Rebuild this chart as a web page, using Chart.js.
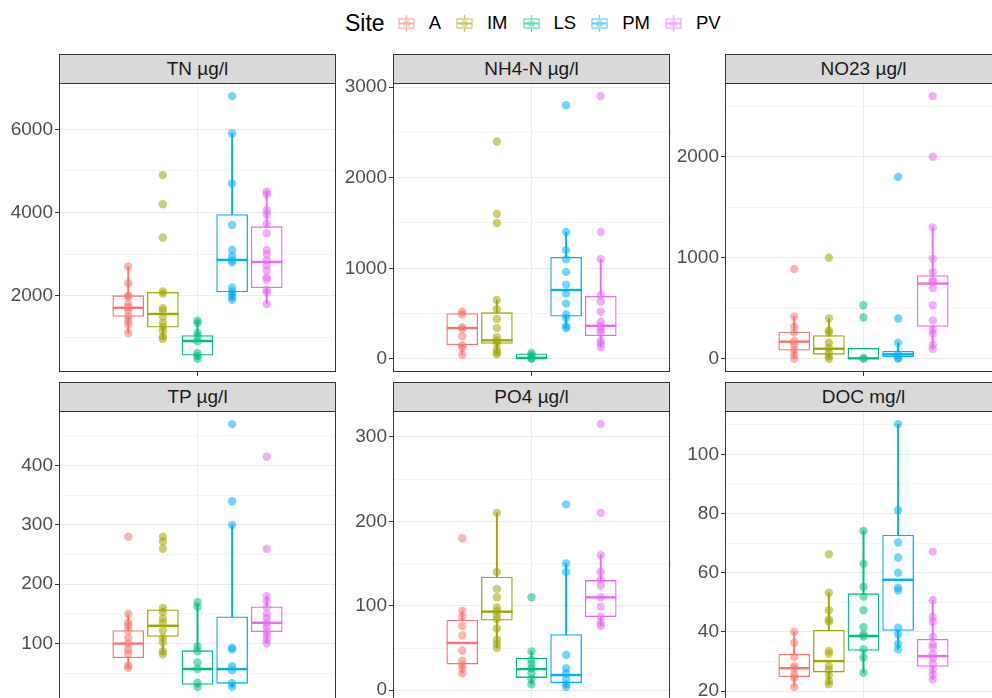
<!DOCTYPE html>
<html>
<head>
<meta charset="utf-8">
<script src="https://cdn.jsdelivr.net/npm/chart.js@4/dist/chart.umd.min.js"></script>
<style>
  html, body { margin: 0; padding: 0; background: #fff; }
  body { position: relative; width: 992px; height: 698px; overflow: hidden;
         font-family: 'Liberation Sans', Arial, sans-serif; }
  canvas { position: absolute; }
  .strip { position: absolute; box-sizing: border-box; background: #D9D9D9;
           border: 1px solid #333; color: #1A1A1A; font-size: 19px;
           text-align: center; line-height: 28px; white-space: nowrap; overflow: hidden; }
  #legend { position: absolute; left: 345px; top: 8px; height: 30px;
            display: flex; align-items: center; color: #000; }
  #legend .title { font-size: 23px; margin-right: 13px; }
  #legend .key { width: 17px; height: 17px; margin-right: 14px; }
  #legend .lab { font-size: 18.5px; margin-right: 15px; }
</style>
</head>
<body>
<div id="legend"><span class="title">Site</span></div>
<script>
// Sites and ggplot hue colours
const sites = ['A', 'IM', 'LS', 'PM', 'PV'];
const siteColors = ['#F8766D', '#A3A500', '#00BF7D', '#00B0F6', '#E76BF3'];

// Per panel: points per site, box stats per site [lower whisker, q1, median, q3, upper whisker], major ticks
const tnPts = [
  [2700, 2300, 2000, 1980, 1800, 1720, 1650, 1500, 1400, 1300, 1100],
  [4900, 4200, 3400, 2100, 2050, 1700, 1640, 1500, 1350, 1250, 1150, 1020, 960],
  [1400, 1340, 1100, 1020, 900, 620, 550, 480],
  [6800, 5900, 4700, 3700, 3100, 2950, 2850, 2800, 2200, 2100, 2040, 1970, 1900],
  [4500, 4440, 4050, 3950, 3730, 3500, 3100, 3000, 2850, 2730, 2600, 2440, 2390, 2130, 2080, 1800],
];
const tnBox = [[1100, 1500, 1710, 2000, 2700], [960, 1240, 1560, 2080, 2100], [480, 570, 910, 1040, 1400],
               [1900, 2090, 2860, 3950, 5900], [1800, 2190, 2810, 3660, 4500]];
const tnTicks = [2000, 4000, 6000];

const nh4Pts = [
  [520, 490, 350, 330, 250, 150, 120, 45],
  [2400, 1600, 1500, 650, 550, 440, 340, 240, 200, 170, 100, 70, 50],
  [65, 40, 10, 0],
  [2800, 1400, 1200, 1100, 960, 820, 720, 610, 490, 450, 360, 340],
  [2900, 1400, 1100, 700, 630, 520, 410, 360, 320, 290, 200, 170, 130],
];
const nh4Box = [[45, 155, 340, 500, 520], [50, 170, 205, 510, 650], [0, 0, 10, 55, 65],
                [340, 470, 760, 1120, 1400], [130, 255, 365, 690, 1100]];
const nh4Ticks = [0, 1000, 2000, 3000];

const no23Pts = [
  [890, 420, 320, 260, 175, 140, 90, 40, 0],
  [1000, 400, 280, 260, 160, 110, 60, 25, 0],
  [530, 410, 10, 0],
  [1800, 400, 160, 45, 10, 0],
  [2600, 2000, 1300, 990, 860, 780, 760, 700, 530, 380, 290, 250, 140, 100],
];
const no23Box = [[0, 85, 170, 265, 420], [0, 45, 100, 230, 400], [0, 0, 5, 105, 105],
                 [0, 20, 45, 75, 160], [100, 320, 745, 825, 1300]];
const no23Ticks = [0, 1000, 2000];

const tpPts = [
  [280, 150, 135, 130, 122, 110, 100, 90, 83, 63, 59],
  [280, 272, 260, 160, 153, 142, 135, 122, 110, 102, 87, 82],
  [170, 162, 95, 87, 68, 57, 34, 27],
  [470, 340, 300, 93, 90, 62, 55, 33, 27],
  [415, 260, 180, 172, 161, 150, 143, 135, 128, 120, 114, 107, 100],
];
const tpBox = [[59, 76, 100, 122, 150], [82, 112, 130, 157, 160], [27, 31, 57, 88, 165],
               [27, 33, 57, 145, 300], [100, 120, 135, 162, 180]];
const tpTicks = [100, 200, 300, 400];

const po4Pts = [
  [180, 94, 87, 76, 65, 47, 35, 30, 26, 20],
  [210, 140, 120, 110, 98, 94, 89, 84, 73, 60, 55, 50],
  [110, 46, 36, 31, 26, 20, 13, 7],
  [220, 150, 140, 42, 26, 20, 13, 7, 4],
  [315, 210, 160, 140, 131, 124, 110, 99, 87, 80, 76],
];
const po4Box = [[20, 31, 56, 83, 94], [50, 83, 93, 134, 210], [7, 15, 25, 38, 46],
                [4, 9, 18, 66, 150], [76, 87, 110, 130, 160]];
const po4Ticks = [0, 100, 200, 300];

const docPts = [
  [40, 36.3, 31.5, 28.5, 27.6, 25.6, 24.5, 21.4],
  [66.2, 53.2, 47.3, 44.2, 43.4, 33.5, 32.6, 28.5, 27.3, 25.4, 23.4, 22.3],
  [74.1, 63, 55.2, 51.9, 47.3, 41.6, 39.2, 38.4, 34.1, 31.3, 26.2],
  [110.2, 81.1, 70.2, 65.1, 60, 54.9, 54, 41.4, 39.2, 36, 34.1],
  [67.1, 50.7, 45, 43.4, 38.3, 35.8, 34.7, 32.4, 31, 29.2, 27.3, 25.6, 23.9],
];
const docBox = [[21.4, 24.8, 27.7, 32.4, 40], [22.3, 26.4, 30.1, 40.5, 53.2], [26.2, 33.7, 38.6, 52.9, 74.1],
                [34.1, 40.5, 57.6, 72.7, 110.2], [23.9, 28.3, 31.8, 37.5, 50.7]];
const docTicks = [20, 40, 60, 80, 100];

const panels = [
  { title: 'TN µg/l',    pts: tnPts,   box: tnBox,   ticks: tnTicks },
  { title: 'NH4-N µg/l', pts: nh4Pts,  box: nh4Box,  ticks: nh4Ticks },
  { title: 'NO23 µg/l',  pts: no23Pts, box: no23Box, ticks: no23Ticks },
  { title: 'TP µg/l',    pts: tpPts,   box: tpBox,   ticks: tpTicks },
  { title: 'PO4 µg/l',   pts: po4Pts,  box: po4Box,  ticks: po4Ticks },
  { title: 'DOC mg/l',   pts: docPts,  box: docBox,  ticks: docTicks },
];

// layout (pixels)
const colLeft = [59, 393, 725];
const rowTop = [54, 382];
const stripH = 29;
const panelW = 277;
const panelH = 289;
const axisW = 58;
const xAxisH = 8;
const topRoom = 14;   // room above the panel so the top tick label is not cut

Chart.defaults.font.family = "'Liberation Sans', Arial, sans-serif";
Chart.defaults.font.size = 19;

const rgba = (hex, a) => {
  const n = parseInt(hex.slice(1), 16);
  return `rgba(${n >> 16}, ${(n >> 8) & 255}, ${n & 255}, ${a})`;
};
// position_dodge of 5 groups in width 0.75 around x = 1
const dodge = (i) => 1 + (i - 2) * 0.15;

const panelBorder = {
  id: 'panelBorder',
  afterDraw(chart) {
    const a = chart.chartArea, c = chart.ctx;
    c.save();
    c.strokeStyle = '#333333';
    c.lineWidth = 1;
    c.strokeRect(a.left + 0.5, a.top + 0.5, a.right - a.left - 1, a.bottom - a.top - 1);
    c.restore();
  },
};

const noPad = (s) => { s.paddingTop = 0; s.paddingBottom = 0; s.paddingLeft = 0; s.paddingRight = 0; };

// legend
const legend = document.getElementById('legend');
sites.forEach((s, i) => {
  const col = siteColors[i];
  legend.insertAdjacentHTML('beforeend',
    `<svg class="key" viewBox="0 0 17 17" style="opacity:0.6">
       <line x1="8.5" y1="0" x2="8.5" y2="17" stroke="${col}" stroke-width="1.2"/>
       <rect x="1" y="4" width="15" height="9" fill="#fff" stroke="${col}" stroke-width="1.2"/>
       <line x1="1" y1="8.5" x2="16" y2="8.5" stroke="${col}" stroke-width="2"/>
       <circle cx="8.5" cy="8.5" r="3.6" fill="${col}" fill-opacity="0.6"/>
     </svg><span class="lab">${s}</span>`);
});

panels.forEach((p, k) => {
  const col = k % 3, row = Math.floor(k / 3);
  const left = colLeft[col], top = rowTop[row] + stripH;

  const strip = document.createElement('div');
  strip.className = 'strip';
  strip.textContent = p.title;
  Object.assign(strip.style, { left: left + 'px', top: rowTop[row] + 'px', width: panelW + 'px', height: (stripH + 1) + 'px' });
  document.body.appendChild(strip);

  const canvas = document.createElement('canvas');
  canvas.width = axisW + panelW;
  canvas.height = topRoom + panelH + xAxisH;
  Object.assign(canvas.style, { left: (left - axisW) + 'px', top: (top - topRoom) + 'px' });
  document.body.appendChild(canvas);

  const all = p.pts.flat();
  const lo = Math.min(...all), hi = Math.max(...all), pad = (hi - lo) * 0.05;
  const yMin = lo - pad, yMax = hi + pad;
  const step = p.ticks[1] - p.ticks[0];
  const yTicks = [];
  for (let v = p.ticks[0] - step / 2; v <= yMax; v += step / 2) if (v >= yMin) yTicks.push(v);
  const isMajor = (v) => p.ticks.includes(v);

  new Chart(canvas, {
    type: 'bar',
    data: {
      datasets: [
        {
          type: 'scatter',
          order: 0,
          data: p.pts.flatMap((vals, i) => vals.map((v) => ({ x: dodge(i), y: v }))),
          backgroundColor: p.pts.flatMap((vals, i) => vals.map(() => rgba(siteColors[i], 0.55))),
          borderWidth: 0,
          pointRadius: 4.2,
        },
        {
          type: 'scatter',
          order: 1,
          data: p.box.map((b, i) => ({ x: dodge(i), y: b[2] })),
          pointStyle: 'line',
          pointRadius: 15.6,
          borderColor: siteColors,
          borderWidth: 2.4,
        },
        {
          order: 2,
          data: p.box.map((b, i) => ({ x: dodge(i), y: [b[1], b[3]] })),
          backgroundColor: '#ffffff',
          borderColor: siteColors,
          borderWidth: 1.3,
          borderSkipped: false,
          barThickness: 31,
          grouped: false,
        },
        {
          order: 3,
          data: p.box.map((b, i) => ({ x: dodge(i), y: [b[0], b[4]] })),
          backgroundColor: siteColors,
          borderWidth: 0,
          barThickness: 1.3,
          grouped: false,
        },
      ],
    },
    options: {
      responsive: false,
      animation: false,
      events: [],
      layout: { padding: { top: topRoom, left: 0, right: 0, bottom: 0 }, autoPadding: false },
      plugins: { legend: { display: false }, tooltip: { enabled: false } },
      scales: {
        x: {
          type: 'linear',
          min: 0.4,
          max: 1.6,
          offset: false,
          afterBuildTicks: (s) => { s.ticks = [{ value: 1 }]; },
          afterFit: (s) => { s.height = xAxisH; noPad(s); },
          ticks: { callback: () => '' },
          grid: { offset: false, color: '#EBEBEB', tickLength: 4, tickColor: '#333333' },
          border: { display: false },
        },
        y: {
          min: yMin,
          max: yMax,
          afterBuildTicks: (s) => { s.ticks = yTicks.map((v) => ({ value: v })); },
          afterFit: (s) => { s.width = axisW; noPad(s); },
          ticks: { color: '#4D4D4D', padding: 2, callback: (v) => (isMajor(v) ? String(v) : '') },
          grid: {
            color: (c) => (isMajor(c.tick.value) ? '#EBEBEB' : '#F4F4F4'),
            tickColor: (c) => (isMajor(c.tick.value) ? '#333333' : 'rgba(0,0,0,0)'),
            tickLength: 4,
          },
          border: { display: false },
        },
      },
    },
    plugins: [panelBorder],
  });
});
</script>
</body>
</html>
